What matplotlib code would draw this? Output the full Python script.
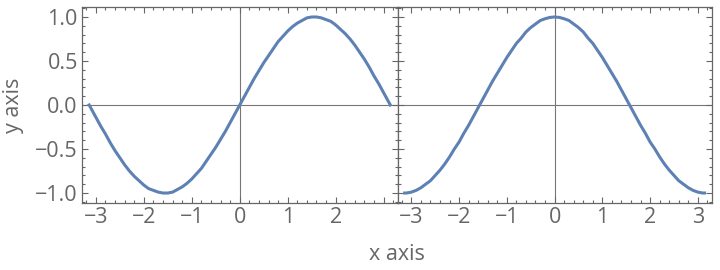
import matplotlib
matplotlib.use("Agg")
from matplotlib import pyplot as plt
from matplotlib.ticker import MultipleLocator

plt.rcParams['font.family'] = ['Open Sans', 'DejaVu Sans']

# values
x = [-3.14, -3.1, -3.0, -2.9, -2.8, -2.7, -2.6, -2.5, -2.4, -2.3, -2.2, -2.1,
     -2.0, -1.9, -1.8, -1.7, -1.6, -1.5, -1.4, -1.3, -1.2, -1.1, -1.0, -0.9,
     -0.8, -0.7, -0.6, -0.5, -0.4, -0.3, -0.2, -0.1, 0.0, 0.1, 0.2, 0.3, 0.4,
     0.5, 0.6, 0.7, 0.8, 0.9, 1.0, 1.1, 1.2, 1.3, 1.4, 1.5, 1.6, 1.7, 1.8,
     1.9, 2.0, 2.1, 2.2, 2.3, 2.4, 2.5, 2.6, 2.7, 2.8, 2.9, 3.0, 3.1, 3.14]
left_y = [0.00, -0.04, -0.14, -0.24, -0.33, -0.43, -0.52, -0.60, -0.68, -0.75,
          -0.81, -0.86, -0.91, -0.95, -0.97, -0.99, -1.00, -1.00, -0.99, -0.96,
          -0.93, -0.89, -0.84, -0.78, -0.72, -0.64, -0.56, -0.48, -0.39, -0.30,
          -0.20, -0.10, 0.00, 0.10, 0.20, 0.30, 0.39, 0.48, 0.56, 0.64, 0.72,
          0.78, 0.84, 0.89, 0.93, 0.96, 0.99, 1.00, 1.00, 0.99, 0.97, 0.95,
          0.91, 0.86, 0.81, 0.75, 0.68, 0.60, 0.52, 0.43, 0.33, 0.24, 0.14,
          0.04, 0.00]
right_y = [-1.00, -1.00, -0.99, -0.97, -0.94, -0.90, -0.86, -0.80, -0.74, -0.67,
           -0.59, -0.50, -0.42, -0.32, -0.23, -0.13, -0.03, 0.07, 0.17, 0.27,
           0.36, 0.45, 0.54, 0.62, 0.70, 0.76, 0.83, 0.88, 0.92, 0.96, 0.98,
           0.995, 1.00, 0.995, 0.98, 0.96, 0.92, 0.88, 0.83, 0.76, 0.70, 0.62,
           0.54, 0.45, 0.36, 0.27, 0.17, 0.07, -0.03, -0.13, -0.23, -0.32,
           -0.42, -0.50, -0.59, -0.67, -0.74, -0.80, -0.86, -0.90, -0.94, -0.97,
           -0.99, -1.00, -1.00]
xticks = [-3, -2, -1, 0, 1, 2, 3]
left_xlabels = ['\u22123', '\u22122', '\u22121', '0', '1', '2', '']
right_xlabels = ['\u22123', '\u22122', '\u22121', '0', '1', '2', '3']
yticks = [-1.0, -0.5, 0.0, 0.5, 1.0]
ylabels = ['\u22121.0', '\u22120.5', '0.0', '0.5', '1.0']

line_c = '#5E81B5'
txt_c = '#666666'
frame_c = '#666666'
fs = 15.5

fig = plt.figure(figsize=(7.2, 2.7), dpi=100)
ax1 = fig.add_axes([82/720, 1 - 202.7/270, 315.5/720, 195.4/270])
ax2 = fig.add_axes([397.5/720, 1 - 202.7/270, 314.2/720, 195.4/270])


def style(ax, xlabels, show_y):
    ax.set_xlim(-3.29, 3.29)
    ax.set_ylim(-1.11, 1.11)
    ax.axhline(0, color='#777777', lw=0.8, zorder=1)
    ax.axvline(0, color='#777777', lw=0.8, zorder=1)
    ax.set_xticks(xticks)
    ax.set_xticklabels(xlabels)
    ax.set_yticks(yticks)
    if show_y:
        ax.set_yticklabels(ylabels)
    else:
        ax.set_yticklabels([])
    ax.xaxis.set_minor_locator(MultipleLocator(0.2))
    ax.yaxis.set_minor_locator(MultipleLocator(0.1))
    ax.tick_params(which='both', direction='in', top=True, right=True,
                   color=frame_c, labelcolor=txt_c, labelsize=fs, width=0.8)
    ax.tick_params(which='major', length=4.5, pad=3)
    ax.tick_params(which='minor', length=2.5)
    for s in ax.spines.values():
        s.set_color(frame_c)
        s.set_linewidth(0.9)


ax1.plot(x, left_y, color=line_c, lw=2.2, zorder=3)
ax2.plot(x, right_y, color=line_c, lw=2.2, zorder=3)
style(ax1, left_xlabels, True)
style(ax2, right_xlabels, False)

fig.text(397/720, 1 - 255/270, 'x axis', ha='center', va='center',
         color=txt_c, fontsize=fs)
fig.text(14/720, 1 - 105/270, 'y axis', ha='center', va='center',
         rotation=90, color=txt_c, fontsize=fs)

fig.savefig('out.png', dpi=100)
